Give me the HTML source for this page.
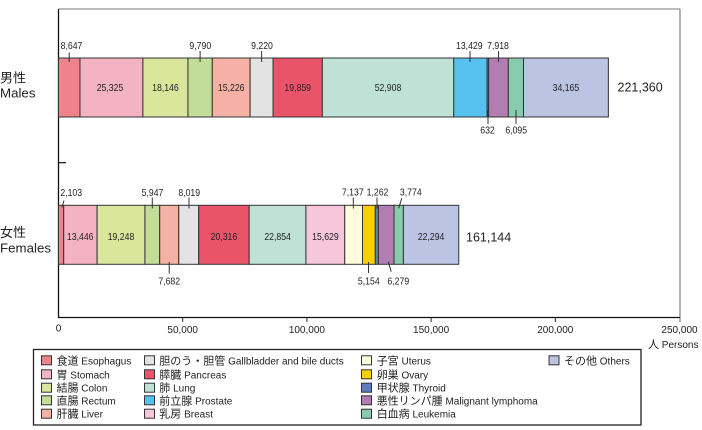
<!DOCTYPE html>
<html><head><meta charset="utf-8"><style>
html,body{margin:0;padding:0;background:#fff;}
svg{display:block;}
text{font-family:"Liberation Sans","Noto Sans CJK JP",sans-serif;fill:#222;}
.v{font-size:10px;}
.c{font-family:"Noto Sans CJK JP","Liberation Sans",sans-serif;font-size:11px;}
.l{font-size:10px;}
</style></head><body>
<svg width="702" height="430" viewBox="0 0 702 430" xmlns="http://www.w3.org/2000/svg">
<!-- frame -->
<line x1="58.5" y1="9" x2="680" y2="9" stroke="#777" stroke-width="1"/>
<line x1="680" y1="9" x2="680" y2="322" stroke="#666" stroke-width="1"/>
<!-- axes -->
<line x1="58.5" y1="9" x2="58.5" y2="318" stroke="#111" stroke-width="1.3"/>
<line x1="58" y1="317.5" x2="680" y2="317.5" stroke="#111" stroke-width="1.3"/>
<line x1="58.5" y1="162.7" x2="66" y2="162.7" stroke="#111" stroke-width="1.2"/>
<g stroke="#222" stroke-width="1">
<line x1="182.7" y1="317" x2="182.7" y2="322"/>
<line x1="306.9" y1="317" x2="306.9" y2="322"/>
<line x1="431.1" y1="317" x2="431.1" y2="322"/>
<line x1="555.3" y1="317" x2="555.3" y2="322"/>
</g>
<g class="l" text-anchor="middle">
<text x="58.5" y="331.5" font-size="10">0</text>
<text x="182.7" y="333" font-size="10">50,000</text>
<text x="306.9" y="333" font-size="10">100,000</text>
<text x="431.1" y="333" font-size="10">150,000</text>
<text x="555.3" y="333" font-size="10">200,000</text>
<text x="679.5" y="333" font-size="10">250,000</text>
</g>
<text x="648" y="348"><tspan class="c">人</tspan><tspan font-size="10"> Persons</tspan></text>

<!-- y labels -->
<text x="0" y="82.5" font-size="13" style="font-family:'Noto Sans CJK JP',sans-serif">男性</text>
<text x="0" y="97.5" font-size="13.3">Males</text>
<text x="0" y="237" font-size="13" style="font-family:'Noto Sans CJK JP',sans-serif">女性</text>
<text x="0" y="252.5" font-size="13.3">Females</text>

<!-- male bar -->
<g stroke="#333" stroke-width="1">
<rect x="58.5" y="58" width="21.48" height="59" fill="#ef828b"/>
<rect x="79.98" y="58" width="62.91" height="59" fill="#f4b3c3"/>
<rect x="142.89" y="58" width="45.07" height="59" fill="#d9e69b"/>
<rect x="187.96" y="58" width="24.32" height="59" fill="#c2dd98"/>
<rect x="212.28" y="58" width="37.82" height="59" fill="#f5b1a5"/>
<rect x="250.10" y="58" width="22.90" height="59" fill="#e3e3e3"/>
<rect x="273.00" y="58" width="49.33" height="59" fill="#e9546b"/>
<rect x="322.33" y="58" width="131.42" height="59" fill="#bfe2d7"/>
<rect x="453.75" y="58" width="33.36" height="59" fill="#57c2ef"/>
<rect x="487.11" y="58" width="1.57" height="59" fill="#5d7fc1"/>
<rect x="488.68" y="58" width="19.67" height="59" fill="#b17db3"/>
<rect x="508.35" y="58" width="15.14" height="59" fill="#89cbad"/>
<rect x="523.49" y="58" width="84.87" height="59" fill="#bcc4e4"/>
</g>
<!-- female bar -->
<g stroke="#333" stroke-width="1">
<rect x="58.5" y="205.3" width="5.22" height="59" fill="#ef828b"/>
<rect x="63.72" y="205.3" width="33.40" height="59" fill="#f4b3c3"/>
<rect x="97.12" y="205.3" width="47.82" height="59" fill="#d9e69b"/>
<rect x="144.94" y="205.3" width="14.77" height="59" fill="#c2dd98"/>
<rect x="159.71" y="205.3" width="19.08" height="59" fill="#f5b1a5"/>
<rect x="178.79" y="205.3" width="19.92" height="59" fill="#e3e3e3"/>
<rect x="198.71" y="205.3" width="50.46" height="59" fill="#e9546b"/>
<rect x="249.17" y="205.3" width="56.77" height="59" fill="#bfe2d7"/>
<rect x="305.94" y="205.3" width="38.83" height="59" fill="#f6c7da"/>
<rect x="344.77" y="205.3" width="17.73" height="59" fill="#fffcdc"/>
<rect x="362.50" y="205.3" width="12.80" height="59" fill="#fcd000"/>
<rect x="375.30" y="205.3" width="3.13" height="59" fill="#5d7fc1"/>
<rect x="378.43" y="205.3" width="15.60" height="59" fill="#b17db3"/>
<rect x="394.03" y="205.3" width="9.37" height="59" fill="#89cbad"/>
<rect x="403.40" y="205.3" width="55.38" height="59" fill="#bcc4e4"/>
</g>

<!-- leaders -->
<g stroke="#333" stroke-width="1">
<line x1="69.2" y1="52.5" x2="69.2" y2="62"/>
<line x1="200.1" y1="51" x2="200.1" y2="62"/>
<line x1="261.6" y1="51" x2="261.6" y2="62"/>
<line x1="470" y1="51" x2="470" y2="62"/>
<line x1="498.5" y1="51" x2="498.5" y2="62"/>
<line x1="488" y1="110" x2="488" y2="124"/>
<line x1="516" y1="110" x2="516" y2="124"/>
<line x1="61.8" y1="207.5" x2="64" y2="200.5"/>
<line x1="152.3" y1="197.5" x2="152.3" y2="208.5"/>
<line x1="189" y1="197.5" x2="189" y2="208.5"/>
<line x1="169.2" y1="262" x2="169.2" y2="273.5"/>
<line x1="353.3" y1="197.5" x2="353.3" y2="208.5"/>
<line x1="377" y1="197.5" x2="377" y2="208.5"/>
<line x1="398.7" y1="208.3" x2="401.7" y2="198.3"/>
<line x1="368.5" y1="262" x2="368.5" y2="273"/>
<line x1="388.3" y1="261.7" x2="391.2" y2="271.7"/>
</g>

<!-- value labels male -->
<g class="v" text-anchor="middle">
<text transform="translate(71.5,49) scale(0.87,1)">8,647</text>
<text transform="translate(200.3,49) scale(0.87,1)">9,790</text>
<text transform="translate(262,49) scale(0.87,1)">9,220</text>
<text transform="translate(469.3,49) scale(0.87,1)">13,429</text>
<text transform="translate(498,49) scale(0.87,1)">7,918</text>
<text transform="translate(487.5,133.6) scale(0.87,1)">632</text>
<text transform="translate(516.2,133.6) scale(0.87,1)">6,095</text>
<text transform="translate(110,90.9) scale(0.87,1)">25,325</text>
<text transform="translate(165.4,90.9) scale(0.87,1)">18,146</text>
<text transform="translate(231.2,90.9) scale(0.87,1)">15,226</text>
<text transform="translate(297.7,90.9) scale(0.87,1)">19,859</text>
<text transform="translate(388,90.9) scale(0.87,1)">52,908</text>
<text transform="translate(565.9,90.9) scale(0.87,1)">34,165</text>
<!-- female -->
<text transform="translate(71.2,196) scale(0.87,1)">2,103</text>
<text transform="translate(152.5,196) scale(0.87,1)">5,947</text>
<text transform="translate(189.2,196) scale(0.87,1)">8,019</text>
<text transform="translate(352.8,195.5) scale(0.87,1)">7,137</text>
<text transform="translate(377.5,195.5) scale(0.87,1)">1,262</text>
<text transform="translate(410.8,195.5) scale(0.87,1)">3,774</text>
<text transform="translate(169.2,284.3) scale(0.87,1)">7,682</text>
<text transform="translate(368.8,284.3) scale(0.87,1)">5,154</text>
<text transform="translate(398.3,284.3) scale(0.87,1)">6,279</text>
<text transform="translate(80.2,240.1) scale(0.87,1)">13,446</text>
<text transform="translate(121,240.1) scale(0.87,1)">19,248</text>
<text transform="translate(223.9,240.1) scale(0.87,1)">20,316</text>
<text transform="translate(277.6,240.1) scale(0.87,1)">22,854</text>
<text transform="translate(325.4,240.1) scale(0.87,1)">15,629</text>
<text transform="translate(431.1,240.1) scale(0.87,1)">22,294</text>
</g>

<!-- totals -->
<text x="617.5" y="91.5" font-size="12.5">221,360</text>
<text x="466" y="241.5" font-size="12.5">161,144</text>

<!-- legend -->
<rect x="33.5" y="349.5" width="607.5" height="75.5" fill="#fff" stroke="#222" stroke-width="1.3"/>
<g stroke="#333" stroke-width="1">
<rect x="41.5" y="355.8" width="10" height="9" fill="#ef828b"/>
<rect x="41.5" y="369.8" width="10" height="9" fill="#f4b3c3"/>
<rect x="41.5" y="383.2" width="10" height="9" fill="#d9e69b"/>
<rect x="41.5" y="395.8" width="10" height="9" fill="#c2dd98"/>
<rect x="41.5" y="409.2" width="10" height="9" fill="#f5b1a5"/>
<rect x="144.5" y="355.8" width="10" height="9" fill="#e3e3e3"/>
<rect x="144.5" y="369.8" width="10" height="9" fill="#e9546b"/>
<rect x="144.5" y="383.2" width="10" height="9" fill="#bfe2d7"/>
<rect x="144.5" y="395.8" width="10" height="9" fill="#57c2ef"/>
<rect x="144.5" y="409.2" width="10" height="9" fill="#f6c7da"/>
<rect x="361.5" y="355.8" width="10" height="9" fill="#fffcdc"/>
<rect x="361.5" y="369.8" width="10" height="9" fill="#fcd000"/>
<rect x="361.5" y="383.2" width="10" height="9" fill="#5d7fc1"/>
<rect x="361.5" y="395.8" width="10" height="9" fill="#b17db3"/>
<rect x="361.5" y="409.2" width="10" height="9" fill="#89cbad"/>
<rect x="549" y="355.8" width="10" height="9" fill="#bcc4e4"/>
</g>
<g>
<text x="56.5" y="364.3"><tspan class="c">食道</tspan><tspan class="l"> Esophagus</tspan></text>
<text x="56.5" y="378.3"><tspan class="c">胃</tspan><tspan class="l"> Stomach</tspan></text>
<text x="56.5" y="391.7"><tspan class="c">結腸</tspan><tspan class="l"> Colon</tspan></text>
<text x="56.5" y="404.3"><tspan class="c">直腸</tspan><tspan class="l"> Rectum</tspan></text>
<text x="56.5" y="417.7"><tspan class="c">肝臓</tspan><tspan class="l"> Liver</tspan></text>
<text x="159.3" y="364.3"><tspan class="c">胆のう・胆管</tspan><tspan class="l"> Gallbladder and bile ducts</tspan></text>
<text x="159.3" y="378.3"><tspan class="c">膵臓</tspan><tspan class="l"> Pancreas</tspan></text>
<text x="159.3" y="391.7"><tspan class="c">肺</tspan><tspan class="l"> Lung</tspan></text>
<text x="159.3" y="404.3"><tspan class="c">前立腺</tspan><tspan class="l"> Prostate</tspan></text>
<text x="159.3" y="417.7"><tspan class="c">乳房</tspan><tspan class="l"> Breast</tspan></text>
<text x="376.7" y="364.3"><tspan class="c">子宮</tspan><tspan class="l"> Uterus</tspan></text>
<text x="376.7" y="378.3"><tspan class="c">卵巣</tspan><tspan class="l"> Ovary</tspan></text>
<text x="376.7" y="391.7"><tspan class="c">甲状腺</tspan><tspan class="l"> Thyroid</tspan></text>
<text x="376.7" y="404.3"><tspan class="c">悪性リンパ腫</tspan><tspan class="l"> Malignant lymphoma</tspan></text>
<text x="376.7" y="417.7"><tspan class="c">白血病</tspan><tspan class="l"> Leukemia</tspan></text>
<text x="564" y="364.3"><tspan class="c">その他</tspan><tspan class="l"> Others</tspan></text>
</g>
</svg>
</body></html>
